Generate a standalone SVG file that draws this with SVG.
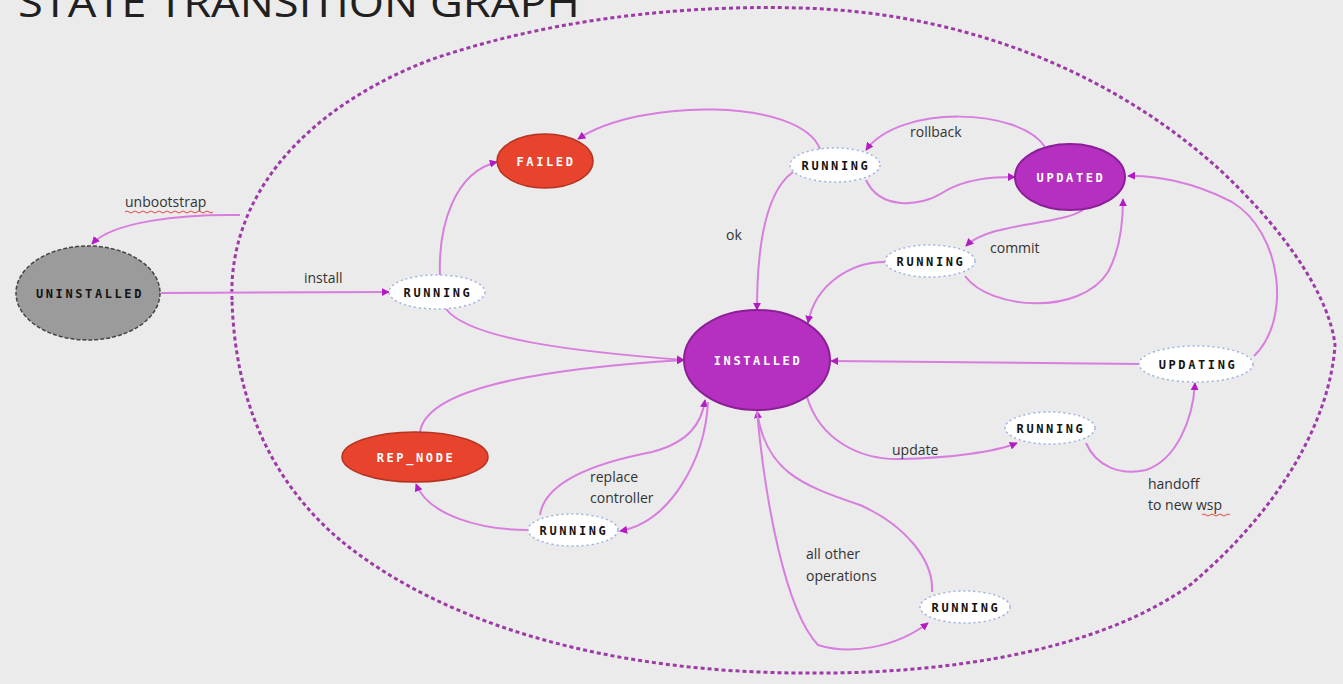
<svg xmlns="http://www.w3.org/2000/svg" width="1343" height="684" viewBox="0 0 1343 684">
<defs>
<style>
.bg{fill:#ebebeb}
.edge{fill:none;stroke:#d77ede;stroke-width:2}
.boundary{fill:none;stroke:#9d3aa8;stroke-width:3;stroke-dasharray:4 3}
.run{fill:#ffffff;stroke:#9fb2e2;stroke-width:1.5;stroke-dasharray:2 3}
.runt{font-family:"DejaVu Sans Mono",monospace;font-weight:bold;font-size:12px;letter-spacing:2.6px;fill:#141414;text-anchor:middle}
.wt{font-family:"DejaVu Sans Mono",monospace;font-weight:bold;font-size:12px;letter-spacing:2.6px;fill:#ffffff;text-anchor:middle}
.purple{fill:#b530c0;stroke:#8c1f98;stroke-width:2}
.red{fill:#e8432d;stroke:#b53322;stroke-width:1.5}
.grey{fill:#9b9b9b;stroke:#444;stroke-width:1.5;stroke-dasharray:4 2}
.lbl{font-family:"Open Sans",sans-serif;font-size:14px;fill:#333}
.sq{fill:none;stroke:#e04545;stroke-width:1}
</style>
<marker id="arr" viewBox="0 0 10 10" refX="9" refY="5" markerWidth="8" markerHeight="8" markerUnits="userSpaceOnUse" orient="auto">
<path d="M0,0 L10,5 L0,10 z" fill="#b21cc2"/>
</marker>
</defs>
<rect class="bg" x="0" y="0" width="1343" height="684"/>
<text x="18" y="17" font-family="'Open Sans',sans-serif" font-size="41" fill="#202020" textLength="562" lengthAdjust="spacingAndGlyphs">STATE TRANSITION GRAPH</text>
<path class="boundary" d="M232,300 C228,200 300,110 430,60 C560,15 700,5 800,8 C960,12 1110,70 1220,170 C1290,235 1330,300 1335,345 C1330,420 1280,510 1190,585 C1100,650 950,675 800,673 C620,672 450,630 340,540 C270,480 235,400 232,300 Z"/>
<g id="connectors">
<path class="edge" marker-end="url(#arr)" d="M240,215 C180,214 112,222 92,244"/>
<path class="edge" marker-end="url(#arr)" d="M161,293 L389,292"/>
<path class="edge" marker-end="url(#arr)" d="M440,276 C438,225 455,172 497,162"/>
<path class="edge" marker-end="url(#arr)" d="M446,309 C470,340 580,352 684,360"/>
<path class="edge" marker-end="url(#arr)" d="M820,149 C800,98 640,98 578,139"/>
<path class="edge" marker-end="url(#arr)" d="M793,172 C765,192 757,250 757,310"/>
<path class="edge" marker-end="url(#arr)" d="M1045,147 C1020,108 900,104 866,150"/>
<path class="edge" marker-end="url(#arr)" d="M866,180 C880,210 920,207 942,193 C965,178 995,177 1015,177"/>
<path class="edge" marker-end="url(#arr)" d="M1083,210 C1058,226 990,222 966,246"/>
<path class="edge" marker-end="url(#arr)" d="M965,276 C990,310 1080,316 1108,272 C1120,250 1123,222 1123,199"/>
<path class="edge" marker-end="url(#arr)" d="M885,262 C850,262 815,285 808,323"/>
<path class="edge" marker-end="url(#arr)" d="M1254,356 C1292,320 1282,232 1232,202 C1192,181 1152,175 1128,176"/>
<path class="edge" marker-end="url(#arr)" d="M1140,364 L831,361"/>
<path class="edge" marker-end="url(#arr)" d="M807,397 C820,440 860,460 900,459 C950,458 995,452 1017,443"/>
<path class="edge" marker-end="url(#arr)" d="M1086,443 C1096,466 1120,476 1146,470 C1176,460 1193,420 1195,383"/>
<path class="edge" marker-end="url(#arr)" d="M420,432 C426,392 520,370 684,360"/>
<path class="edge" marker-end="url(#arr)" d="M528,530 C480,530 428,515 416,484"/>
<path class="edge" marker-end="url(#arr)" d="M540,515 C545,480 600,462 652,452 C690,442 702,422 705,400"/>
<path class="edge" marker-end="url(#arr)" d="M708,402 C705,460 670,522 620,531"/>
<path class="edge" marker-end="url(#arr)" d="M932,592 C934,560 905,525 860,505 C800,485 765,470 757,411"/>
<path class="edge" marker-end="url(#arr)" d="M757,411 C765,500 785,610 818,645 C850,655 895,648 928,623"/>
</g>
<g id="labels">
<text class="lbl" x="125" y="207">unbootstrap</text>
<path class="sq" d="M125,212 q2,-2 4,0 t4,0 t4,0 t4,0 t4,0 t4,0 t4,0 t4,0 t4,0 t4,0 t4,0 t4,0 t4,0 t4,0 t4,0 t4,0 t4,0 t4,0 t4,0 t4,0 t4,0 t4,0"/>
<text class="lbl" x="304" y="283">install</text>
<text class="lbl" x="726" y="240">ok</text>
<text class="lbl" x="910" y="137">rollback</text>
<text class="lbl" x="990" y="253">commit</text>
<text class="lbl" x="892" y="455">update</text>
<text class="lbl" x="1148" y="489">handoff</text>
<text class="lbl" x="1148" y="510">to new wsp</text>
<path class="sq" d="M1202,515 q2,-2 4,0 t4,0 t4,0 t4,0 t4,0 t4,0 t4,0"/>
<text class="lbl" x="590" y="482">replace</text>
<text class="lbl" x="590" y="503">controller</text>
<text class="lbl" x="806" y="559">all other</text>
<text class="lbl" x="806" y="581">operations</text>
</g>
<g id="uninstalled"><ellipse class="grey" cx="88" cy="293" rx="72" ry="47"/><text class="runt" x="90" y="298">UNINSTALLED</text></g>
<g id="running-install"><ellipse class="run" cx="437" cy="292" rx="48" ry="17"/><text class="runt" x="438" y="297">RUNNING</text></g>
<g id="failed"><ellipse class="red" cx="545" cy="161" rx="48" ry="27"/><text class="wt" x="546" y="166">FAILED</text></g>
<g id="running-top"><ellipse class="run" cx="835" cy="165" rx="45" ry="17"/><text class="runt" x="836" y="170">RUNNING</text></g>
<g id="updated"><ellipse class="purple" cx="1070" cy="177" rx="55" ry="33"/><text class="wt" x="1071" y="182">UPDATED</text></g>
<g id="running-commit"><ellipse class="run" cx="930" cy="261" rx="45" ry="16"/><text class="runt" x="931" y="266">RUNNING</text></g>
<g id="installed"><ellipse class="purple" cx="757" cy="360" rx="73" ry="50"/><text class="wt" x="758" y="365">INSTALLED</text></g>
<g id="updating"><ellipse class="run" cx="1196" cy="364" rx="57" ry="18"/><text class="runt" x="1198" y="369">UPDATING</text></g>
<g id="rep-node"><ellipse class="red" cx="415" cy="457" rx="73" ry="25"/><text class="wt" x="416" y="462">REP_NODE</text></g>
<g id="running-replace"><ellipse class="run" cx="573" cy="530" rx="45" ry="16"/><text class="runt" x="574" y="535">RUNNING</text></g>
<g id="running-update"><ellipse class="run" cx="1050" cy="428" rx="45" ry="16"/><text class="runt" x="1051" y="433">RUNNING</text></g>
<g id="running-other"><ellipse class="run" cx="965" cy="607" rx="45" ry="16"/><text class="runt" x="966" y="612">RUNNING</text></g>
</svg>
